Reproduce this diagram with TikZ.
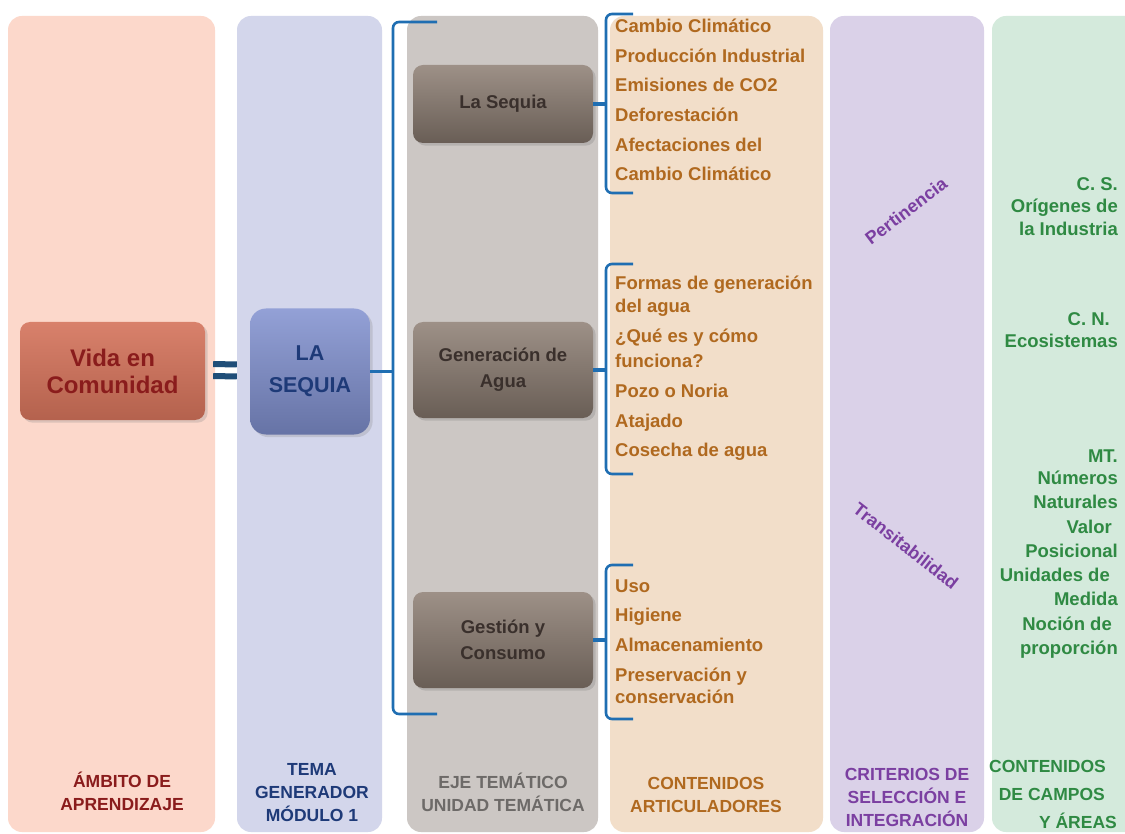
\documentclass[tikz,border=0pt]{standalone}
\usepackage{fontspec}
\setmainfont{Liberation Sans}
\usepackage{xcolor}
\usetikzlibrary{positioning,shadows,calc}

\definecolor{peachbg}{HTML}{FCD8CB}
\definecolor{lavbg}{HTML}{D3D6EB}
\definecolor{graybg}{HTML}{CCC7C4}
\definecolor{beigebg}{HTML}{F2DEC9}
\definecolor{purpbg}{HTML}{DAD1E8}
\definecolor{mintbg}{HTML}{D4EADC}
\definecolor{vidafill}{HTML}{D4735B}
\definecolor{vidatext}{HTML}{8A1C1C}
\definecolor{temafill}{HTML}{8090CF}
\definecolor{tematext}{HTML}{1E3A78}
\definecolor{ejefill}{HTML}{8C7D72}
\definecolor{ejetext}{HTML}{3A302C}
\definecolor{ejelab}{HTML}{6D6A68}
\definecolor{contc}{HTML}{B0691F}
\definecolor{brkc}{HTML}{1F6EB2}
\definecolor{eqc}{HTML}{1F4E79}
\definecolor{critc}{HTML}{7B3FA1}
\definecolor{campoc}{HTML}{2F8A43}

\begin{document}
\begin{tikzpicture}[x=1pt, y=-1pt,
  colbg/.style={rounded corners=14pt},
  vidabox/.style={draw=none, rounded corners=10pt, top color=vidafill!90!white, bottom color=vidafill!85!black,
                  minimum width=185pt, minimum height=98pt, align=center, text=vidatext,
                  font=\fontsize{24}{27}\selectfont\bfseries, drop shadow={opacity=.25}},
  temabox/.style={draw=none, rounded corners=16pt, top color=temafill!85!white, bottom color=temafill!80!black,
                  minimum width=120pt, minimum height=126pt, align=center, text=tematext,
                  font=\fontsize{21.5}{32}\selectfont\bfseries, drop shadow={opacity=.25}},
  ejebox/.style={draw=none, rounded corners=10pt, top color=ejefill!85!white, bottom color=ejefill!75!black,
                 minimum width=180pt, align=center, text=ejetext,
                 font=\fontsize{18.5}{26}\selectfont\bfseries, drop shadow={opacity=.3}},
  brk/.style={draw=brkc, line width=2.6pt, rounded corners=6pt},
  nub/.style={draw=brkc, line width=4.5pt},
  eqbar/.style={draw=eqc, line width=6pt},
  cont/.style={font=\fontsize{18.5}{22}\selectfont\bfseries, text=contc, anchor=base west, inner sep=0pt},
  campo/.style={font=\fontsize{18.5}{22}\selectfont\bfseries, text=campoc, anchor=base east, inner sep=0pt},
  crit/.style={font=\fontsize{18}{20}\selectfont\bfseries, text=critc, inner sep=0pt},
  lab/.style={font=\fontsize{17.5}{23}\selectfont\bfseries, align=center, inner sep=0pt}
]
  \clip (0,0) rectangle (1125,834);
  \fill[white] (0,0) rectangle (1125,834);

  % column backgrounds
  \fill[colbg, peachbg] (8,16)   rectangle (215,832);
  \fill[colbg, lavbg]   (237,16) rectangle (382,832);
  \fill[colbg, graybg]  (407,16) rectangle (598,832);
  \fill[colbg, beigebg] (610,16) rectangle (823,832);
  \fill[colbg, purpbg]  (830,16) rectangle (984,832);
  \fill[colbg, mintbg]  (992,16) rectangle (1145,832);

  % main boxes
  \node[vidabox] (vida) at (112.5,371) {Vida en\\Comunidad};
  \node[temabox] (tema) at (310,371.5) {LA\\SEQUIA};
  \draw[eqbar] ([xshift=8pt,yshift=7pt]vida.east) -- ([xshift=-13pt,yshift=7pt]tema.west);
  \draw[eqbar] ([xshift=8pt,yshift=-5pt]vida.east) -- ([xshift=-13pt,yshift=-5pt]tema.west);

  \node[ejebox, minimum height=78pt] (seq) at (503,104) {La Sequia};
  \node[ejebox, minimum height=96pt] (gen) at (503,370) {Generación de\\Agua};
  \node[ejebox, minimum height=96pt] (ges) at (503,640) {Gestión y\\Consumo};

  % main bracket
  \coordinate (spine) at (393,372);
  \coordinate (btop) at (437,22);
  \coordinate (bbot) at (437,714);
  \draw[brk] (btop) -- (393,22) -- (393,714) -- (bbot);
  \draw[brk] (tema.east) -- (tema.east -| spine);

  % small brackets
  \coordinate (rail) at (606,0);
  \foreach \b/\t/\u in {seq/14/193, gen/264/474, ges/565/719}{
    \draw[nub] (\b.east) -- (\b.east -| rail);
    \draw[brk] (633,\t) -- (606,\t) -- (606,\u) -- (633,\u);
  }

  % contenidos articuladores
  \foreach \yy/\txt [count=\i] in {33/Cambio Climático, 63/Producción Industrial, 92/Emisiones de CO2,
      122/Deforestación, 152/Afectaciones del, 181/Cambio Climático}
    \node[cont] (a\i) at (615,\yy) {\txt};
  \foreach \yy/\txt [count=\i] in {290/Formas de generación, 313/del agua, 343/¿Qué es y cómo,
      367/funciona?, 397/Pozo o Noria, 427/Atajado, 456/Cosecha de agua}
    \node[cont] (b\i) at (615,\yy) {\txt};
  \foreach \yy/\txt [count=\i] in {592/Uso, 621/Higiene, 651/Almacenamiento, 681/Preservación y, 703/conservación}
    \node[cont] (c\i) at (615,\yy) {\txt};

  % criterios
  \node[crit, rotate=37]  (pert) at (906,211) {Pertinencia};
  \node[crit, rotate=-38] (tran) at (906,546) {Transitabilidad};

  % contenidos de campos y areas
  \foreach \yy/\txt [count=\i] in {191/C. S., 213/Orígenes de, 236/la Industria, 326/C. N.\kern8pt, 348/Ecosistemas,
      462/MT., 484/Números, 508/Naturales, 533/Valor\kern6pt, 557/Posicional, 581/Unidades de\kern8pt,
      605/Medida, 630/Noción de\kern6pt, 654/proporción}
    \node[campo] (d\i) at (1118,\yy) {\txt};

  % column labels
  \node[lab, text=vidatext] (labA) at (122,791) {ÁMBITO DE\\APRENDIZAJE};
  \node[lab, text=tematext] (labT) at (312,793) {TEMA\\GENERADOR\\MÓDULO 1};
  \node[lab, text=ejelab]   (labE) at (503,792) {EJE TEMÁTICO\\UNIDAD TEMÁTICA};
  \node[lab, text=contc]    (labC) at (706,795) {CONTENIDOS\\ARTICULADORES};
  \node[lab, text=critc]    (labK) at (907,797) {CRITERIOS DE\\SELECCIÓN E\\INTEGRACIÓN};
  \node[lab, text=campoc, align=right, font=\fontsize{17.5}{28}\selectfont\bfseries]
                            (labF) at (1053,794) {CONTENIDOS\kern11pt\\DE CAMPOS\kern12pt\\Y ÁREAS};
\end{tikzpicture}
\end{document}
